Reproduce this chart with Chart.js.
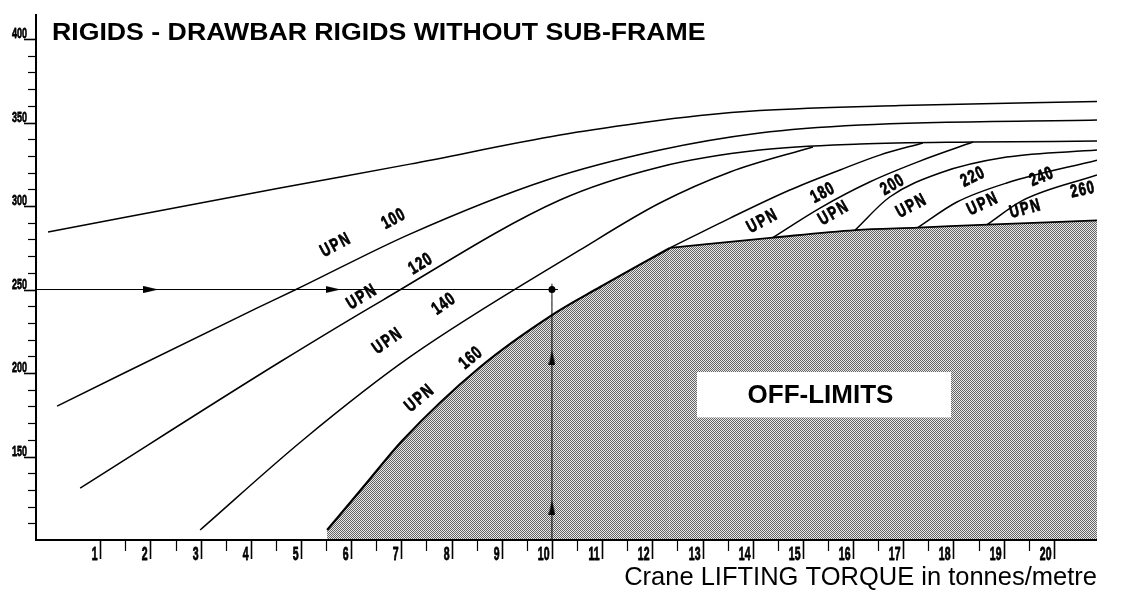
<!DOCTYPE html>
<html lang="en">
<head>
<meta charset="utf-8">
<title>Rigids - drawbar rigids without sub-frame</title>
<script src="https://cdn.jsdelivr.net/npm/chart.js@4.4.1/dist/chart.umd.min.js"></script>
<style>
    html, body { margin: 0; padding: 0; background: #fff; }
    .chart-box { position: relative; width: 1122px; height: 601px; }
</style>
</head>
<body>
<div class="chart-box"><canvas id="upnChart"></canvas></div>
<script>
// Axis ticks
const xTickLabels = [1, 2, 3, 4, 5, 6, 7, 8, 9, 10, 11, 12, 13, 14, 15, 16, 17, 18, 19, 20];
const yTickLabels = [150, 200, 250, 300, 350, 400];

// Curves as [torque, value] pairs
const curveTop = [[-0.04, 284.4], [4.58, 310.8], [7.17, 325.1], [10.16, 342.5], [11.75, 349.7], [12.95, 354.2], [14.14, 357.2], [16.93, 360.2], [20.86, 362.6]];
const upn100 = [[0.14, 180.2], [4.12, 238.9], [4.92, 250.3], [7.17, 283.2], [9.90, 315.6], [12.15, 333.5], [14.14, 343.7], [16.14, 348.5], [20.86, 351.5]];
const upn120 = [[0.60, 131.1], [4.58, 206.6], [6.63, 243.7], [10.16, 303.6], [12.15, 323.4], [14.14, 333.5], [16.14, 337.1], [18.39, 338.3], [20.86, 338.9]];
const upn140 = [[2.99, 106.0], [5.04, 159.9], [7.17, 209.6], [10.56, 273.7], [12.15, 301.8], [13.55, 320.4], [15.20, 335.4]];
const upn160Low = [[5.52, 106.0], [6.24, 131.7], [7.03, 159.9], [8.57, 203.6], [10.0, 234.7], [10.96, 251.5], [12.35, 274.9]];
const upn160High = [[12.35, 274.9], [13.55, 292.8], [14.74, 309.6], [15.74, 321.6], [16.53, 330.5], [17.39, 337.8]];
const upn180 = [[14.40, 281.1], [15.34, 298.8], [16.33, 314.4], [17.33, 326.9], [18.39, 338.3]];
const upn200 = [[16.04, 285.6], [16.73, 305.4], [17.73, 319.8], [19.06, 329.3], [20.86, 333.5]];
const upn220 = [[17.29, 287.1], [18.07, 302.4], [19.06, 313.8], [20.86, 327.5]];
const upn240 = [[18.67, 288.9], [19.38, 303.4], [20.86, 318.6]];
const upn260 = [[12.35, 274.9], [14.40, 281.1], [16.04, 285.6], [17.29, 287.1], [18.67, 288.9], [20.86, 291.4]];

// Reading example: 250 on the left axis, torque 10
const guideH = [[-0.28, 250], [10.12, 250]];
const guideV = [[10, 100], [10, 253.5]];
const arrowsRight = [[2.01, 250], [5.64, 250]];
const arrowsUp = [[10, 209.0], [10, 119.2]];
const guidePoint = [[10, 250]];

// Text placed along the curves (data coordinates)
const curveLabels = [
    { text: 'UPN', x: 5.70, y: 276.6, angle: -28 },
    { text: '100', x: 6.85, y: 292.2, angle: -28 },
    { text: 'UPN', x: 6.22, y: 245.5, angle: -31 },
    { text: '120', x: 7.39, y: 265.3, angle: -31 },
    { text: 'UPN', x: 6.73, y: 219.2, angle: -35 },
    { text: '140', x: 7.85, y: 241.3, angle: -35 },
    { text: 'UPN', x: 7.37, y: 185.0, angle: -40 },
    { text: '160', x: 8.39, y: 209.0, angle: -40 },
    { text: 'UPN', x: 14.20, y: 291.0, angle: -28 },
    { text: '180', x: 15.40, y: 307.8, angle: -28 },
    { text: 'UPN', x: 15.62, y: 295.8, angle: -30 },
    { text: '200', x: 16.79, y: 312.6, angle: -30 },
    { text: 'UPN', x: 17.17, y: 300.0, angle: -28 },
    { text: '220', x: 18.39, y: 317.4, angle: -26 },
    { text: 'UPN', x: 18.59, y: 301.2, angle: -25 },
    { text: '240', x: 19.76, y: 317.4, angle: -22 },
    { text: 'UPN', x: 19.44, y: 298.2, angle: -15 },
    { text: '260', x: 20.58, y: 309.6, angle: -12 }
];
const offLimitsBox = { x0: 12.89, x1: 17.95, y0: 173.4, y1: 200.6, text: 'OFF-LIMITS', tx: 15.35, ty: 186.2 };

const FONT = '"Liberation Sans", Arial, Helvetica, sans-serif';

const toXY = pts => pts.map(([x, y]) => ({ x, y }));

// fine dot screen for the forbidden zone
function stipple() {
    const c = document.createElement('canvas');
    c.width = 2; c.height = 2;
    const g = c.getContext('2d');
    g.fillStyle = '#e8e8e8';
    g.fillRect(0, 0, 2, 2);
    g.fillStyle = '#646464';
    g.fillRect(0, 0, 1, 1);
    g.fillRect(1, 1, 1, 1);
    return g.createPattern(c, 'repeat');
}

// slim arrowhead pointing up, rotated for the horizontal guide
function arrowHead() {
    const c = document.createElement('canvas');
    c.width = 7; c.height = 15;
    const g = c.getContext('2d');
    g.fillStyle = '#000';
    g.beginPath();
    g.moveTo(3.5, 0);
    g.lineTo(7, 15);
    g.lineTo(0, 15);
    g.closePath();
    g.fill();
    return c;
}

function curve(pts, width, extra) {
    return Object.assign({
        data: toXY(pts),
        borderColor: '#000',
        borderWidth: width,
        pointRadius: 0,
        fill: false,
        cubicInterpolationMode: 'monotone'
    }, extra || {});
}

// text with optional horizontal squeeze/stretch and a hairline stroke for weight
function narrowText(ctx, text, x, y, o) {
    ctx.save();
    ctx.translate(x, y);
    if (o.angle) ctx.rotate(o.angle * Math.PI / 180);
    ctx.scale(o.squeeze || 1, 1);
    ctx.font = (o.weight || 'bold') + ' ' + o.size + 'px ' + FONT;
    ctx.letterSpacing = (o.spacing || 0) + 'px';
    ctx.textAlign = o.align || 'center';
    ctx.textBaseline = o.baseline || 'middle';
    ctx.fillStyle = '#000';
    ctx.fillText(text, 0, 0);
    if (o.stroke) {
        ctx.strokeStyle = '#000';
        ctx.lineWidth = o.stroke;
        ctx.lineJoin = 'round';
        ctx.strokeText(text, 0, 0);
    }
    ctx.restore();
}

const decor = {
    id: 'decor',
    afterDatasetsDraw(chart) {
        const { ctx, chartArea: area, scales: { x, y } } = chart;
        ctx.save();

        // white plate inside the shaded zone
        const b = offLimitsBox;
        const bx = x.getPixelForValue(b.x0), by = y.getPixelForValue(b.y1);
        ctx.fillStyle = '#fff';
        ctx.fillRect(bx, by, x.getPixelForValue(b.x1) - bx, y.getPixelForValue(b.y0) - by);
        narrowText(ctx, b.text, x.getPixelForValue(b.tx), y.getPixelForValue(b.ty), { size: 26 });

        curveLabels.forEach(l => {
            narrowText(ctx, l.text, x.getPixelForValue(l.x), y.getPixelForValue(l.y),
                { size: 18, squeeze: 0.72, spacing: l.text === 'UPN' ? 2.5 : 1.5, angle: l.angle, stroke: 0.8 });
        });

        // axes
        ctx.strokeStyle = '#000';
        ctx.lineWidth = 2;
        ctx.beginPath();
        ctx.moveTo(area.left, area.top);
        ctx.lineTo(area.left, area.bottom);
        ctx.lineTo(area.right, area.bottom);
        ctx.stroke();

        // left axis: minor every 10, labelled every 50
        for (let v = 110; v <= 400; v += 10) {
            const py = Math.round(y.getPixelForValue(v)) + 0.5;
            const major = yTickLabels.includes(v);
            ctx.strokeStyle = '#000';
            ctx.lineWidth = major ? 1.6 : 1.2;
            ctx.beginPath();
            ctx.moveTo(area.left - (major ? 12 : 8), py);
            ctx.lineTo(area.left, py);
            ctx.stroke();
            if (major) {
                narrowText(ctx, String(v), area.left - 9, py - 2,
                    { size: 15.5, squeeze: 0.58, align: 'right', baseline: 'alphabetic', stroke: 0.8 });
            }
        }

        // bottom axis: labelled units, short half steps
        xTickLabels.forEach(n => {
            const px = Math.round(x.getPixelForValue(n)) + 0.5;
            ctx.strokeStyle = '#000';
            ctx.lineWidth = 1.6;
            ctx.beginPath();
            ctx.moveTo(px, area.bottom);
            ctx.lineTo(px, area.bottom + 19);
            ctx.stroke();
            narrowText(ctx, String(n), px - 3, area.bottom + 20,
                { size: 17.5, squeeze: 0.6, align: 'right', baseline: 'alphabetic', stroke: 0.8 });
            if (n < 20) {
                const hx = Math.round(x.getPixelForValue(n + 0.5)) + 0.5;
                ctx.lineWidth = 1.2;
                ctx.beginPath();
                ctx.moveTo(hx, area.bottom);
                ctx.lineTo(hx, area.bottom + 11);
                ctx.stroke();
            }
        });
        ctx.restore();
    },
    afterDraw(chart) {
        const { ctx, chartArea: area } = chart;
        narrowText(ctx, 'RIGIDS - DRAWBAR RIGIDS WITHOUT SUB-FRAME', area.left + 16, area.top + 26,
            { size: 23, squeeze: 1.16, align: 'left', baseline: 'alphabetic' });
        narrowText(ctx, 'Crane LIFTING TORQUE in tonnes/metre', area.right, area.bottom + 45,
            { size: 25.5, weight: 'normal', align: 'right', baseline: 'alphabetic' });
    }
};

document.addEventListener('DOMContentLoaded', () => {
    const dots = stipple();
    const head = arrowHead();

    new Chart(document.getElementById('upnChart'), {
        type: 'line',
        data: {
            datasets: [
                curve(upn160Low, 2.2, { fill: 'start', backgroundColor: dots }),
                curve(upn260, 1.8, { fill: 'start', backgroundColor: dots }),
                curve(curveTop, 1.5),
                curve(upn100, 1.5),
                curve(upn120, 1.5),
                curve(upn140, 1.5),
                curve(upn160High, 1.5),
                curve(upn180, 1.5),
                curve(upn200, 1.5),
                curve(upn220, 1.5),
                curve(upn240, 1.5),
                curve(guideH, 1),
                curve(guideV, 1),
                { data: toXY(arrowsRight), showLine: false, pointStyle: head, rotation: 90, pointRadius: 4 },
                { data: toXY(arrowsUp), showLine: false, pointStyle: head, rotation: 0, pointRadius: 4 },
                { data: toXY(guidePoint), showLine: false, pointStyle: 'circle', pointRadius: 3.5,
                  backgroundColor: '#000', borderColor: '#000', borderWidth: 0 }
            ]
        },
        options: {
            responsive: true,
            maintainAspectRatio: false,
            animation: false,
            events: [],
            layout: { padding: { left: 36, top: 14, right: 25, bottom: 61 } },
            scales: {
                x: { type: 'linear', min: -0.28, max: 20.86, display: false },
                y: { type: 'linear', min: 100, max: 415, display: false }
            },
            plugins: {
                legend: { display: false },
                tooltip: { enabled: false },
                filler: { drawTime: 'beforeDatasetsDraw' }
            }
        },
        plugins: [decor]
    });
});
</script>
</body>
</html>
